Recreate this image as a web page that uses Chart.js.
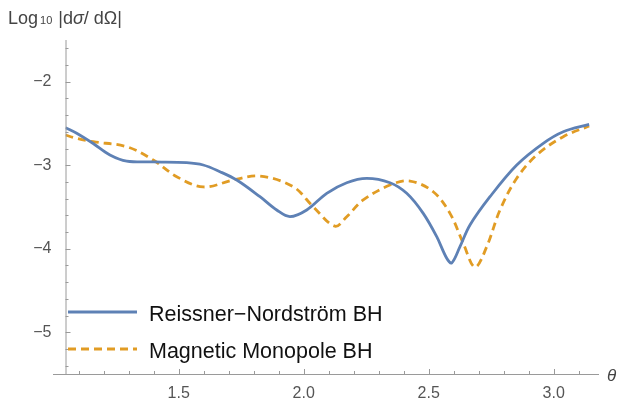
<!DOCTYPE html>
<html>
<head>
<meta charset="utf-8">
<script src="https://cdn.jsdelivr.net/npm/chart.js@4"></script>
<style>
  html, body { margin: 0; padding: 0; background: #fff; }
  canvas { display: block; }
</style>
</head>
<body>
<canvas id="myChart" width="624" height="403"></canvas>
<script>
// angle theta (rad) and log10 |dsigma/dOmega|
const rnTheta = [1.047, 1.092, 1.158, 1.225, 1.292, 1.398, 1.532, 1.598, 1.665, 1.732, 1.825, 1.892, 1.945, 2.012, 2.092, 2.172, 2.252, 2.345, 2.412, 2.478, 2.532, 2.572, 2.592, 2.625, 2.665, 2.745, 2.852, 2.958, 3.038, 3.1416];
const rnValues = [-2.55, -2.617, -2.74, -2.877, -2.95, -2.96, -2.969, -2.997, -3.077, -3.177, -3.377, -3.536, -3.615, -3.536, -3.336, -3.209, -3.157, -3.209, -3.336, -3.576, -3.856, -4.114, -4.17, -3.975, -3.716, -3.377, -2.997, -2.737, -2.598, -2.51];

const mmTheta = [1.047, 1.092, 1.158, 1.292, 1.398, 1.492, 1.598, 1.718, 1.825, 1.958, 2.038, 2.125, 2.172, 2.238, 2.345, 2.425, 2.518, 2.585, 2.638, 2.685, 2.732, 2.785, 2.852, 2.932, 3.038, 3.1416];
const mmValues = [-2.638, -2.678, -2.718, -2.778, -2.937, -3.137, -3.26, -3.177, -3.129, -3.257, -3.497, -3.73, -3.616, -3.416, -3.237, -3.189, -3.317, -3.576, -3.935, -4.22, -3.975, -3.536, -3.156, -2.877, -2.658, -2.53];

const seriesNames = ['Reissner\u2212Nordstr\u00f6m BH', 'Magnetic Monopole BH'];
const xTicks = [1.5, 2.0, 2.5, 3.0];
const yTicks = [-5, -4, -3, -2];

const toPoints = (xs, ys) => xs.map((x, i) => ({ x: x, y: ys[i] }));

const FONT = '"Liberation Sans", Arial, sans-serif';
const AXIS = '#9a9a9a';

const axesPlugin = {
  id: 'mmaAxes',
  afterDraw(chart) {
    const c = chart.ctx;
    const xs = chart.scales.x, ys = chart.scales.y;
    const a = chart.chartArea;
    c.save();
    c.strokeStyle = AXIS;
    c.lineWidth = 1;
    // axis lines
    c.beginPath();
    c.moveTo(53, a.bottom + 0.5);
    c.lineTo(a.right, a.bottom + 0.5);
    c.moveTo(a.left + 0.5, a.top);
    c.lineTo(a.left + 0.5, a.bottom);
    c.stroke();
    // x ticks every 0.1, major every 0.5
    c.beginPath();
    for (let k = 11; k <= 31; k++) {
      const v = k / 10;
      const px = Math.round(xs.getPixelForValue(v)) + 0.5;
      const len = (k % 5 === 0) ? 5 : 3;
      c.moveTo(px, a.bottom);
      c.lineTo(px, a.bottom - len);
    }
    // y ticks every 0.2, major every 1
    for (let k = -27; k <= -8; k++) {
      const v = k / 5;
      const py = Math.round(ys.getPixelForValue(v)) + 0.5;
      const len = (k % 5 === 0) ? 5 : 3;
      c.moveTo(a.left, py);
      c.lineTo(a.left + len, py);
    }
    c.stroke();

    // axis titles, pieces: [text, font]
    c.fillStyle = '#444';
    c.textBaseline = 'alphabetic';
    c.textAlign = 'left';
    const title = [
      ['Log', '18px '], ['10', '11px '], [' |d', '18px '], ['\u03c3', 'italic 18px '],
      ['/ d', '18px '], ['\u03a9|', '18px ']
    ];
    let tx = 8;
    title.forEach(([t, f], i) => {
      c.font = f + FONT;
      c.fillText(t, tx, 24);
      tx += c.measureText(t).width + (i === 0 ? 2 : 0) + (i === 1 ? 1 : 0);
    });
    c.font = 'italic 17px ' + FONT;
    c.textBaseline = 'middle';
    c.fillText('\u03b8', 607, 376);

    // legend
    const rows = [312, 349];
    chart.data.datasets.forEach((ds, i) => {
      c.strokeStyle = ds.borderColor;
      c.lineWidth = ds.borderWidth;
      c.setLineDash(ds.borderDash || []);
      c.beginPath();
      c.moveTo(68, rows[i]);
      c.lineTo(137, rows[i]);
      c.stroke();
      c.setLineDash([]);
      c.fillStyle = '#111';
      c.font = '21.5px ' + FONT;
      c.textBaseline = 'alphabetic';
      c.fillText(ds.label, 149, rows[i] + 8.5);
    });
    c.restore();
  }
};

const ctx = document.getElementById('myChart').getContext('2d');
let myChart = new Chart(ctx, {
  type: 'line',
  data: {
    datasets: [
      {
        label: seriesNames[0],
        data: toPoints(rnTheta, rnValues),
        borderColor: '#5e81b5',
        borderWidth: 2.8,
        pointRadius: 0,
        tension: 0.35,
        fill: false
      },
      {
        label: seriesNames[1],
        data: toPoints(mmTheta, mmValues),
        borderColor: '#e19c24',
        borderWidth: 2.8,
        borderDash: [8, 5],
        pointRadius: 0,
        tension: 0.35,
        fill: false
      }
    ]
  },
  options: {
    responsive: false,
    animation: false,
    layout: { padding: { top: 40, right: 25, left: 0, bottom: 0 } },
    plugins: { legend: { display: false }, tooltip: { enabled: false } },
    scales: {
      x: {
        type: 'linear',
        min: Math.PI / 3,
        max: 3.181,
        grid: { display: false },
        border: { display: false },
        afterBuildTicks: s => { s.ticks = xTicks.map(v => ({ value: v })); },
        afterFit: s => { s.height = 29; },
        ticks: {
          color: '#555',
          font: { family: FONT, size: 16 },
          padding: 2,
          maxRotation: 0,
          callback: v => v.toFixed(1)
        }
      },
      y: {
        type: 'linear',
        min: -5.5,
        max: -1.5,
        grid: { display: false },
        border: { display: false },
        afterBuildTicks: s => { s.ticks = yTicks.map(v => ({ value: v })); },
        afterFit: s => { s.width = 65.5; },
        ticks: {
          color: '#555',
          font: { family: FONT, size: 16 },
          padding: 6,
          callback: v => '\u2212' + Math.abs(v)
        }
      }
    }
  },
  plugins: [axesPlugin]
});
</script>
</body>
</html>
